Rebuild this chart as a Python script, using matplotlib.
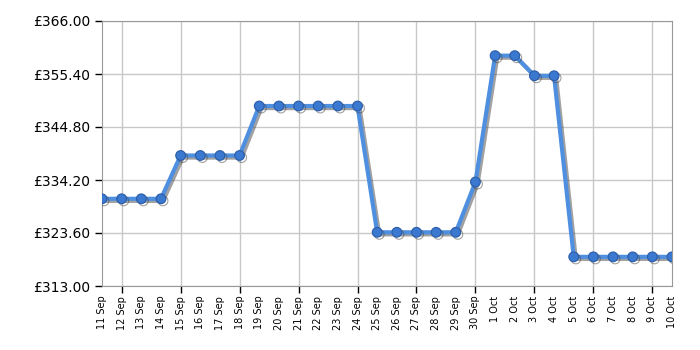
import matplotlib
matplotlib.use("Agg")
import matplotlib.pyplot as plt
import matplotlib.patheffects as pe

# prices per day
dates = ["11 Sep", "12 Sep", "13 Sep", "14 Sep", "15 Sep", "16 Sep", "17 Sep", "18 Sep",
         "19 Sep", "20 Sep", "21 Sep", "22 Sep", "23 Sep", "24 Sep", "25 Sep", "26 Sep",
         "27 Sep", "28 Sep", "29 Sep", "30 Sep", "1 Oct", "2 Oct", "3 Oct", "4 Oct",
         "5 Oct", "6 Oct", "7 Oct", "8 Oct", "9 Oct", "10 Oct"]
prices = [330.44, 330.44, 330.44, 330.44, 339.1, 339.1, 339.1, 339.1,
          349.0, 349.0, 349.0, 349.0, 349.0, 349.0, 323.74, 323.74,
          323.74, 323.74, 323.74, 333.8, 359.07, 359.07, 355.05, 355.05,
          318.83, 318.83, 318.83, 318.83, 318.83, 318.83]
y_ticks = [313.0, 323.6, 334.2, 344.8, 355.4, 366.0]

fig = plt.figure(figsize=(7, 3.5), dpi=100)
ax = fig.add_axes([102 / 700, 1 - 286 / 350, 570 / 700, 265 / 350])

x = list(range(len(dates)))
ax.plot(x, prices, color="#4f8fe0", linewidth=3, marker="o", markersize=7,
        markerfacecolor="#3b78cf", markeredgecolor="#2a5ca8", markeredgewidth=0.8,
        zorder=3,
        path_effects=[pe.SimpleLineShadow(offset=(1.5, -1.5), shadow_color="#444444", alpha=0.5),
                      pe.Normal()])

ax.set_xlim(0, len(dates) - 1)
ax.set_ylim(313, 366)
ax.set_yticks(y_ticks)
ax.set_yticklabels([f"£{v:.2f}" for v in y_ticks], fontsize=10)

# labels on every day, tick marks and gridlines every third day
ax.xaxis.remove_overlapping_locs = False
ax.set_xticks(x)
ax.set_xticklabels(dates, rotation=90, fontsize=7)
ax.tick_params(axis="x", which="major", length=0, pad=7)
ax.set_xticks(x[1::3], minor=True)
ax.tick_params(axis="x", which="minor", length=5, width=1, color="black", direction="out")
ax.tick_params(axis="y", length=5, width=1, color="black", direction="out")

ax.yaxis.grid(True, which="major", color="#c8c8c8", linewidth=1)
ax.xaxis.grid(True, which="minor", color="#c8c8c8", linewidth=1)
ax.xaxis.grid(False, which="major")
ax.set_axisbelow(True)
for s in ax.spines.values():
    s.set_color("#999999")

fig.savefig("out.png", dpi=100)
